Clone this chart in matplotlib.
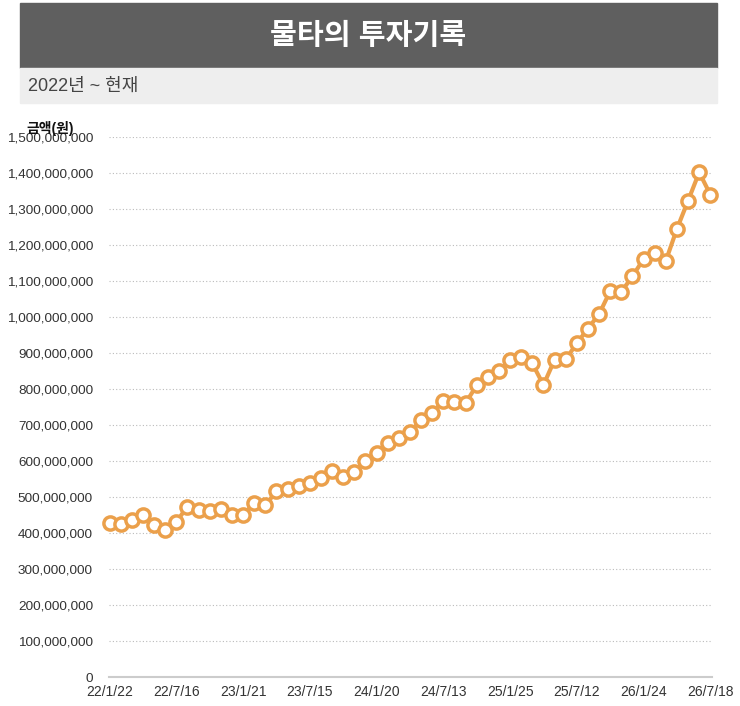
import matplotlib
matplotlib.use("Agg")
import matplotlib.pyplot as plt
from matplotlib.patches import Rectangle
from matplotlib.ticker import FuncFormatter

plt.rcParams["font.family"] = ["Liberation Sans", "Noto Sans CJK KR", "DejaVu Sans"]

title = "물타의 투자기록"
subtitle = "2022년 ~ 현재"
y_label = "금액(원)"

tick_labels = ["22/1/22", "22/7/16", "23/1/21", "23/7/15", "24/1/20",
               "24/7/13", "25/1/25", "25/7/12", "26/1/24", "26/7/18"]

# monthly-ish balance, in 백만원 (millions of won)
values_m = [428, 425, 436, 451, 423, 408, 431, 473, 464, 462,
            466, 451, 451, 482, 477, 516, 523, 531, 538, 553,
            571, 555, 569, 599, 623, 651, 664, 680, 714, 734,
            767, 763, 761, 810, 833, 850, 881, 890, 871, 811,
            881, 882, 927, 968, 1008, 1072, 1070, 1113, 1161, 1178,
            1156, 1245, 1323, 1402, 1340]
values = [v * 1_000_000 for v in values_m]
x = list(range(len(values)))
tick_step = 6

W, H = 740, 706
fig = plt.figure(figsize=(W / 100, H / 100), dpi=100)

# header banner + subtitle strip
fig.patches.append(Rectangle((20 / W, 1 - 68 / H), 697 / W, 65 / H,
                             transform=fig.transFigure, color="#5f5f5f", zorder=0))
fig.patches.append(Rectangle((20 / W, 1 - 103 / H), 697 / W, 35 / H,
                             transform=fig.transFigure, color="#eeeeee", zorder=0))
fig.text(368 / W, 1 - 36 / H, title, color="white", fontsize=21, fontweight="bold",
         ha="center", va="center")
fig.text(28 / W, 1 - 86 / H, subtitle, color="#444444", fontsize=13,
         ha="left", va="center")

ax = fig.add_axes([109 / W, (H - 677) / H, 603 / W, 540 / H])
ax.plot(x, values, color="#eba04b", linewidth=3, marker="o", markersize=9.5,
        markerfacecolor="white", markeredgecolor="#eba04b", markeredgewidth=2.5,
        clip_on=False, zorder=3)

ax.set_ylim(0, 1_500_000_000)
ax.set_yticks(range(0, 1_500_000_001, 100_000_000))
ax.yaxis.set_major_formatter(FuncFormatter(lambda v, _: f"{int(v):,}"))
ax.set_xlim(-0.05, len(values) - 1 + 0.15)
ax.set_xticks(x[::tick_step])
ax.set_xticklabels(tick_labels)

ax.grid(axis="y", linestyle=(0, (1, 2)), color="#bbbbbb", linewidth=0.8)
ax.set_axisbelow(True)
for side in ["top", "right", "left"]:
    ax.spines[side].set_visible(False)
ax.spines["bottom"].set_color("#cccccc")
ax.spines["bottom"].set_linewidth(1.5)
ax.tick_params(length=0, labelsize=10, colors="#333333")
ax.tick_params(axis="y", pad=11.5, labelsize=9.7)
ax.tick_params(axis="x", pad=6)

fig.text(50 / W, 1 - 128 / H, y_label, fontsize=10, fontweight="bold",
         ha="center", va="center", color="#111111")

fig.savefig("out.png", dpi=100)
